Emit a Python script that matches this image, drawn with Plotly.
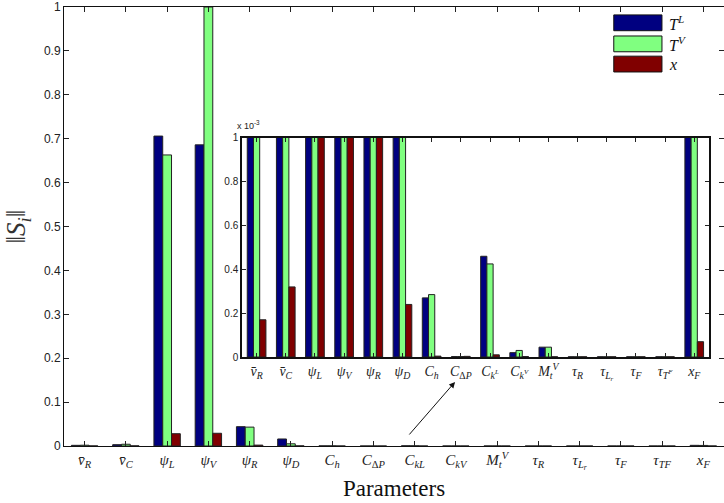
import plotly.graph_objects as go

categories = [1, 2, 3, 4, 5, 6, 7, 8, 9, 10, 11, 12, 13, 14, 15, 16]
main_labels = [
    "<i>v̄</i><sub><i>R</i></sub>", "<i>v̄</i><sub><i>C</i></sub>",
    "<i>ψ</i><sub><i>L</i></sub>", "<i>ψ</i><sub><i>V</i></sub>",
    "<i>ψ</i><sub><i>R</i></sub>", "<i>ψ</i><sub><i>D</i></sub>",
    "<i>C</i><sub><i>h</i></sub>", "<i>C</i><sub>Δ<i>P</i></sub>",
    "<i>C</i><sub><i>kL</i></sub>", "<i>C</i><sub><i>kV</i></sub>",
    "<i>M</i><sub><i>t</i></sub><sup><i>V</i></sup>", "<i>τ</i><sub><i>R</i></sub>",
    "<i>τ</i><sub><i>L</i><sub><i>r</i></sub></sub>", "<i>τ</i><sub><i>F</i></sub>",
    "<i>τ</i><sub><i>TF</i></sub>", "<i>x</i><sub><i>F</i></sub>",
]
inset_labels = [
    "<i>v̄</i><sub><i>R</i></sub>", "<i>v̄</i><sub><i>C</i></sub>",
    "<i>ψ</i><sub><i>L</i></sub>", "<i>ψ</i><sub><i>V</i></sub>",
    "<i>ψ</i><sub><i>R</i></sub>", "<i>ψ</i><sub><i>D</i></sub>",
    "<i>C</i><sub><i>h</i></sub>", "<i>C</i><sub>Δ<i>P</i></sub>",
    "<i>C</i><sub><i>k</i><sup><i>L</i></sup></sub>", "<i>C</i><sub><i>k</i><sup><i>V</i></sup></sub>",
    "<i>M</i><sub><i>t</i></sub><sup><i>V</i></sup>", "<i>τ</i><sub><i>R</i></sub>",
    "<i>τ</i><sub><i>L</i><sub><i>r</i></sub></sub>", "<i>τ</i><sub><i>F</i></sub>",
    "<i>τ</i><sub><i>T</i><sup><i>F</i></sup></sub>", "<i>x</i><sub><i>F</i></sub>",
]

series_names = ["<i>T</i><sup><i>L</i></sup>", "<i>T</i><sup><i>V</i></sup>", "<i>x</i>"]
T_L = [0.0015, 0.003, 0.706, 0.686, 0.044, 0.016, 0.00027, 0.000002, 0.00046, 0.00002,
       0.000045, 0.000001, 0.000001, 0.000001, 0.000001, 0.0015]
T_V = [0.0018, 0.004, 0.663, 1.0, 0.043, 0.005, 0.000285, 0.000002, 0.000425, 0.00003,
       0.000045, 0.000001, 0.000001, 0.000001, 0.000001, 0.0013]
X_F = [0.00017, 0.00032, 0.028, 0.029, 0.002, 0.00024, 0.000004, 0.000003, 0.00001, 0.000002,
       0.000001, 0.000001, 0.000001, 0.000001, 0.000001, 0.00007]
series_values = [T_L, T_V, X_F]
colors = ["#000080", "#80ff80", "#800000"]

main_yticks = [0, 0.1, 0.2, 0.3, 0.4, 0.5, 0.6, 0.7, 0.8, 0.9, 1]
inset_yticks = [0, 0.0002, 0.0004, 0.0006, 0.0008, 0.001]
inset_yticktext = ["0", "0.2", "0.4", "0.6", "0.8", "1"]

fig = go.Figure()
for name, vals, col in zip(series_names, series_values, colors):
    fig.add_trace(go.Bar(x=categories, y=vals, name=name, marker_color=col,
                         marker_line=dict(color="#222222", width=1),
                         xaxis="x", yaxis="y", showlegend=False))
for name, vals, col in zip(series_names, series_values, colors):
    fig.add_trace(go.Bar(x=categories, y=vals, name=name, marker_color=col,
                         marker_line=dict(color="#222222", width=1),
                         xaxis="x2", yaxis="y2", showlegend=False))

serif = "Liberation Serif"
sans = "Liberation Sans"

fig.update_layout(
    width=724, height=503,
    margin=dict(l=64, r=0, t=7, b=57),
    paper_bgcolor="white", plot_bgcolor="white",
    barmode="group", bargap=0.36, bargroupgap=0,
    xaxis=dict(domain=[0, 1], range=[0.5, 16.5], tickmode="array", tickvals=categories,
               ticktext=main_labels, ticks="inside", ticklen=5, tickcolor="#222",
               showline=True, linecolor="#111", linewidth=1, mirror="ticks",
               showgrid=False, zeroline=False, tickangle=0,
               tickfont=dict(family=serif, size=15, color="#222"),
               title=dict(text="Parameters", font=dict(family=serif, size=23, color="#111"),
                          standoff=8),
               automargin=False, anchor="y"),
    yaxis=dict(domain=[0, 1], range=[0, 1], tickmode="array", tickvals=main_yticks,
               ticks="inside", ticklen=5, tickcolor="#222",
               showline=True, linecolor="#111", linewidth=1, mirror="ticks",
               showgrid=False, zeroline=False,
               tickfont=dict(family=sans, size=12, color="#222"),
               title=dict(text="‖<i>S</i><sub><i>i</i></sub>‖",
                          font=dict(family=serif, size=27, color="#333"), standoff=10),
               automargin=False, anchor="x"),
    xaxis2=dict(domain=[0.2697, 0.977], range=[0.5, 16.5], tickmode="array",
                tickvals=categories, ticktext=inset_labels, ticks="inside", ticklen=4,
                tickcolor="#222", showline=True, linecolor="#111", linewidth=1.5,
                mirror="ticks", showgrid=False, zeroline=False, tickangle=0,
                tickfont=dict(family=serif, size=14, color="#222"),
                automargin=False, anchor="y2"),
    yaxis2=dict(domain=[0.2027, 0.7016], range=[0, 0.001], tickmode="array",
                tickvals=inset_yticks, ticktext=inset_yticktext, ticks="inside", ticklen=4,
                tickcolor="#222", showline=True, linecolor="#111", linewidth=1.5,
                mirror="ticks", showgrid=False, zeroline=False,
                tickfont=dict(family=sans, size=10, color="#222"),
                automargin=False, anchor="x2"),
)

# inset background
fig.add_shape(type="rect", xref="x2 domain", yref="y2 domain", x0=0, x1=1, y0=0, y1=1,
              fillcolor="white", line=dict(width=0), layer="below")

# exponent label of inset
fig.add_annotation(text="x 10<sup>-3</sup>", xref="x2 domain", yref="y2 domain",
                   x=-0.015, y=1.025, xanchor="left", yanchor="bottom", showarrow=False,
                   font=dict(family=sans, size=9, color="#222"))

# arrow pointing to inset
fig.add_annotation(x=9.98, y=0.146, ax=8.84, ay=0.0228, xref="x", yref="y",
                   axref="x", ayref="y", text="", showarrow=True, arrowhead=2,
                   arrowsize=1.2, arrowwidth=1, arrowcolor="#111")

# legend (manual, large swatches)
leg_y = [0.964, 0.916, 0.870]
for name, col, yy in zip(series_names, colors, leg_y):
    fig.add_shape(type="rect", xref="paper", yref="paper", x0=0.833, x1=0.906,
                  y0=yy - 0.018, y1=yy + 0.018, fillcolor=col,
                  line=dict(color="#111", width=1))
    fig.add_annotation(text=name, xref="paper", yref="paper", x=0.914, y=yy,
                       xanchor="left", yanchor="middle", showarrow=False,
                       font=dict(family=serif, size=16, color="#111"))

fig.write_html("out.html")
